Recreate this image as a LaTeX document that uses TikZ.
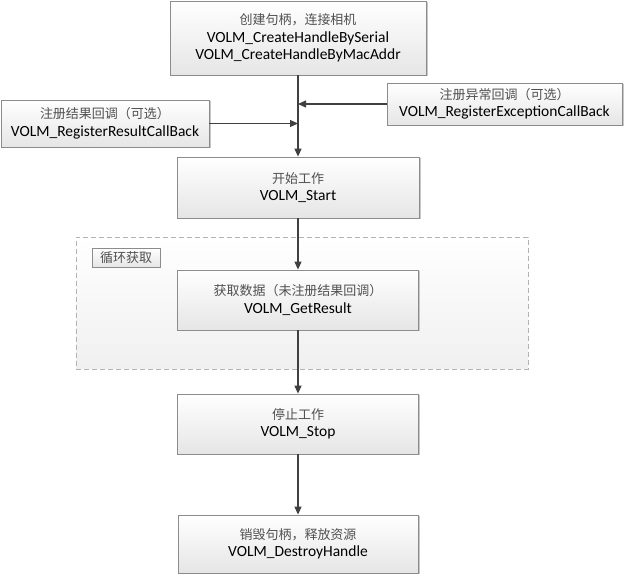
\documentclass[tikz,border=0pt]{standalone}
\usepackage{fontspec}
\setmainfont{Carlito}
\newfontfamily\cjk{Noto Sans CJK SC}
\usetikzlibrary{arrows.meta,shadows}
\definecolor{edge}{HTML}{8C8C8C}
\definecolor{arrowc}{HTML}{404040}
\definecolor{zhc}{HTML}{505050}
\newcommand{\zh}[1]{{\cjk\fontsize{13}{17}\selectfont\color{zhc}#1}}
\tikzset{
  stepbox/.style={draw=edge, line width=0.8pt, rectangle, inner sep=0pt,
    top color=white, bottom color=black!10, align=center,
    font=\fontsize{15.5}{17.5}\selectfont,
    drop shadow={shadow xshift=1.5pt, shadow yshift=-1.5pt, fill=black!22, opacity=1}},
  loopbox/.style={draw=black!30, line width=0.8pt, dash pattern=on 5pt off 3pt,
    rectangle, inner sep=0pt, top color=white, bottom color=black!6},
  tagbox/.style={draw=edge, line width=0.8pt, rectangle, inner sep=0pt,
    top color=white, bottom color=black!10,
    drop shadow={shadow xshift=1pt, shadow yshift=-1pt, fill=black!22, opacity=1}},
  arr/.style={draw=arrowc, line width=1.2pt, -{Triangle[length=8pt,width=7pt]}}
}
\begin{document}
\begin{tikzpicture}[x=1pt,y=-1pt]
\path[fill=white] (0,0) rectangle (625,577);
\useasboundingbox (0,0) rectangle (625,577);

\node[loopbox, minimum width=452pt, minimum height=132pt] (loop) at (302,303) {};
\node[tagbox, minimum width=68pt, minimum height=19pt] (tag) at (126,257.5) {\zh{循环获取}};

\node[stepbox, minimum width=256pt, minimum height=74pt] (create) at (298,38)
  {\zh{创建句柄，连接相机}\\VOLM\_CreateHandleBySerial\\VOLM\_CreateHandleByMacAddr};
\node[stepbox, minimum width=208pt, minimum height=47pt] (regres) at (105,123.5)
  {\zh{注册结果回调（可选）}\\VOLM\_RegisterResultCallBack};
\node[stepbox, minimum width=235pt, minimum height=42pt] (regexc) at (504.5,104)
  {\zh{注册异常回调（可选）}\\VOLM\_RegisterExceptionCallBack};
\node[stepbox, minimum width=242pt, minimum height=61pt] (start) at (298,187.5)
  {\zh{开始工作}\\VOLM\_Start};
\node[stepbox, minimum width=241pt, minimum height=60pt] (get) at (298,300)
  {\zh{获取数据（未注册结果回调）}\\VOLM\_GetResult};
\node[stepbox, minimum width=241pt, minimum height=60pt] (stop) at (298,424)
  {\zh{停止工作}\\VOLM\_Stop};
\node[stepbox, minimum width=240pt, minimum height=58pt] (destroy) at (298,544)
  {\zh{销毁句柄，释放资源}\\VOLM\_DestroyHandle};

\draw[arr] (create) -- (start);
\draw[arr] (regres) -- (regres -| create.south);
\draw[arr] (regexc) -- (regexc -| create.south);
\draw[arr] (start) -- (get);
\draw[arr] (get) -- (stop);
\draw[arr] (stop) -- (destroy);
\end{tikzpicture}
\end{document}
